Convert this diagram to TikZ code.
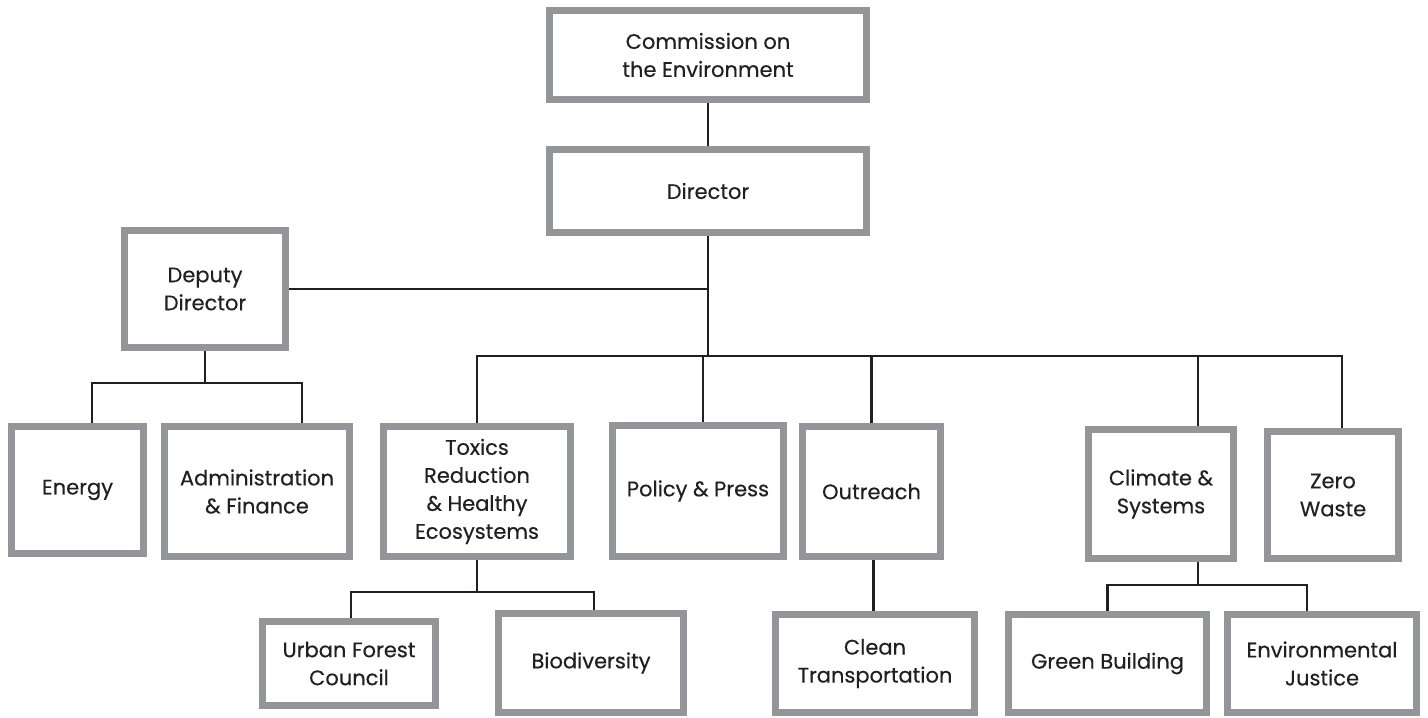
\documentclass[tikz,border=0pt]{standalone}
\usepackage{fontspec}
\setmainfont{Poppins}
\newfontfamily\orgfam{Poppins}[FakeBold=0.35]
\usepackage{tikz}
\usepackage{xcolor}
\usetikzlibrary{positioning,calc}
\definecolor{boxgray}{HTML}{939598}
\definecolor{ink}{HTML}{231F20}
\newcommand{\orgfont}{\orgfam\fontsize{10.5}{14}\selectfont}
\tikzset{
  orgbox/.style={draw=boxgray,fill=white,line width=3.5pt,
                 align=center,inner sep=2pt,text=ink,font=\orgfont},
  orgline/.style={draw=ink,line width=1.25pt}
}

\begin{document}
\begin{tikzpicture}[x=0.5pt,y=-0.5pt]
  \useasboundingbox (0,0) rectangle (1428,717);

  % top of the chart
  \node[orgbox,minimum width=158.5pt,minimum height=44.5pt] (comm) at (708,55) {Commission on\\the Environment};
  \node[orgbox,minimum width=158.5pt,minimum height=41.5pt] (dir) at (708,191) {Director};
  \node[orgbox,minimum width=80.5pt,minimum height=58.5pt] (deputy) at (205,289) {Deputy\\Director};

  % second row
  \node[orgbox,minimum width=66pt,minimum height=63.5pt] (energy) at (77.5,490) {Energy};
  \node[orgbox,minimum width=92.5pt,minimum height=65pt] (admin) at (257,491.5) {Administration\\\& Finance};
  \node[orgbox,minimum width=93.5pt,minimum height=65pt] (toxics) at (477,491.5) {Toxics\\Reduction\\\& Healthy\\Ecosystems};
  \node[orgbox,minimum width=85.5pt,minimum height=65.5pt] (policy) at (698,491) {Policy \& Press};
  \node[orgbox,minimum width=69pt,minimum height=65pt] (outreach) at (871.5,491.5) {Outreach};
  \node[orgbox,minimum width=72.5pt,minimum height=64.5pt] (climate) at (1161,494) {Climate \&\\Systems};
  \node[orgbox,minimum width=65.5pt,minimum height=63.5pt] (zero) at (1333,495) {Zero\\Waste};

  % third row
  \node[orgbox,minimum width=86.5pt,minimum height=42pt] (urban) at (349,663.5) {Urban Forest\\Council};
  \node[orgbox,minimum width=92.5pt,minimum height=49.5pt] (bio) at (591,663) {Biodiversity};
  \node[orgbox,minimum width=99.5pt,minimum height=49pt] (clean) at (875,663.5) {Clean\\Transportation};
  \node[orgbox,minimum width=99pt,minimum height=49pt] (green) at (1107.5,663.5) {Green Building};
  \node[orgbox,minimum width=94.5pt,minimum height=49pt] (envj) at (1322,663.5) {Environmental\\Justice};

  % bus points
  \coordinate (bus) at (708,356);
  \coordinate (depbus) at (204,383);
  \coordinate (toxbus) at (478,592);
  \coordinate (climbus) at (1198,585);

  % connectors
  \draw[orgline] (comm) -- (dir);
  \draw[orgline] (dir) -- (bus);
  \draw[orgline] (deputy.east) -- (deputy.east -| dir.south);
  \draw[orgline] (toxics.north) |- (bus) -| ([xshift=4.5pt]zero.north);
  \foreach \n/\dx in {policy/2.5pt,outreach/0pt,climate/18.5pt}
    \draw[orgline] ([xshift=\dx]\n.north) -- ([xshift=\dx]\n.north |- bus);

  \draw[orgline] (deputy.south) -- (deputy.south |- depbus);
  \draw[orgline] ([xshift=7.25pt]energy.north) |- (depbus) -| ([xshift=22.5pt]admin.north);

  \draw[orgline] (toxics.south) -- (toxics.south |- toxbus);
  \draw[orgline] ([xshift=1pt]urban.north) |- (toxbus) -| ([xshift=1.5pt]bio.north);

  \draw[orgline] ([xshift=1pt]outreach.south) -- ([xshift=1pt]outreach.south |- clean.north);

  \draw[orgline] ([xshift=18.5pt]climate.south) -- (climbus);
  \draw[orgline] (green.north) |- (climbus) -| ([xshift=-7.5pt]envj.north);
\end{tikzpicture}
\end{document}
